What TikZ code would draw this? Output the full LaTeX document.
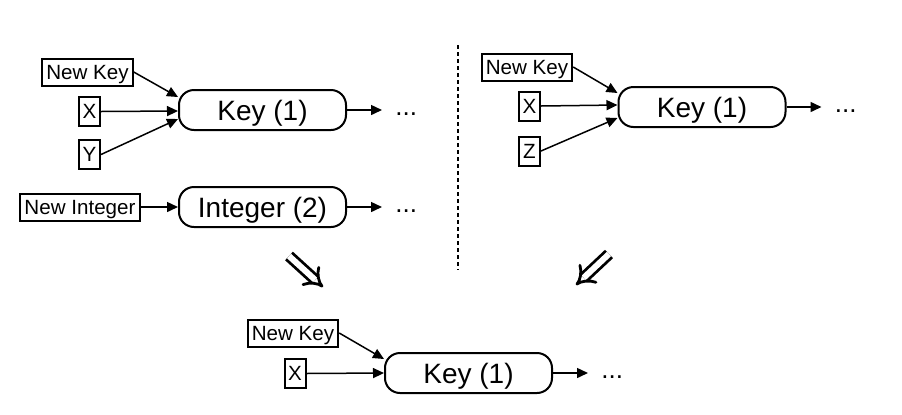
\documentclass[tikz,border=0pt]{standalone}
\usepackage{fontspec}
\setmainfont{Liberation Sans}
\usetikzlibrary{arrows.meta,positioning}

\begin{document}
\begin{tikzpicture}[x=0.5pt,y=-0.5pt,
    inbox/.style={draw,line width=1pt,font=\fontsize{10.3pt}{12pt}\selectfont,text height=7.4pt,text depth=0pt,inner xsep=2pt,inner ysep=1.7pt,minimum height=13.5pt},
    letterbox/.style={inbox,inner xsep=1pt,minimum width=10.5pt,minimum height=14.5pt},
    keybox/.style={draw,line width=1pt,rounded corners=7.5pt,font=\fontsize{14pt}{16pt}\selectfont,text height=10pt,text depth=0pt,minimum width=83.5pt,minimum height=20pt},
    more/.style={font=\fontsize{13pt}{15pt}\selectfont,inner xsep=6.5pt,inner ysep=0pt,text height=5pt,text depth=0pt,right=17.5pt of #1},
    link/.style={-{Triangle[length=5.5pt,width=5pt]},line width=0.75pt},
    merge/.style={double,double distance=3pt,line width=1.4pt,-{Implies[scale=1.2]}}]
    \useasboundingbox (0,0) rectangle (902,414);

    % left: two record chains
    \node[inbox] (nkA) at (87.5,72) {New Key};
    \node[letterbox] (xA) at (89.5,111.5) {X};
    \node[letterbox] (yA) at (89.5,154.5) {Y};
    \node[keybox] (keyA) at (262.5,110) {Key (1)};
    \node[more=keyA] (dA) {...};

    \node[inbox] (niA) at (80,207) {New Integer};
    \node[keybox] (intA) at (262.5,207) {Integer (2)};
    \node[more=intA] (dI) {...};

    % right
    \node[inbox] (nkB) at (527,67) {New Key};
    \node[letterbox] (xB) at (529.5,106) {X};
    \node[letterbox] (zB) at (529.5,151) {Z};
    \node[keybox] (keyB) at (702,107) {Key (1)};
    \node[more=keyB] (dB) {...};

    % merged result
    \node[inbox] (nkC) at (293,333) {New Key};
    \node[letterbox] (xC) at (295,373.5) {X};
    \node[keybox] (keyC) at (468.5,373) {Key (1)};
    \node[more=keyC] (dC) {...};

    \foreach \a/\b/\s in {nkA/keyA/6.5pt,xA/keyA/-0.5pt,yA/keyA/-4.5pt,
                          nkB/keyB/7pt,xB/keyB/1pt,zB/keyB/-5.5pt,
                          nkC/keyC/7pt,xC/keyC/0pt}
        \draw[link] (\a.east) -- ([yshift=\s]\b.west);
    \draw[link] (niA) -- (intA);
    \foreach \a/\b in {keyA/dA,intA/dI,keyB/dB,keyC/dC}
        \draw[link] (\a) -- (\b);

    \draw[line width=1pt,dash pattern=on 2pt off 1.5pt] (458,45) -- (458,270);

    \coordinate (mA) at (289,256);
    \coordinate (mA') at (323,287);
    \coordinate (mB) at (609,254);
    \coordinate (mB') at (576,285);
    \draw[merge] (mA) -- (mA');
    \draw[merge] (mB) -- (mB');
\end{tikzpicture}
\end{document}
